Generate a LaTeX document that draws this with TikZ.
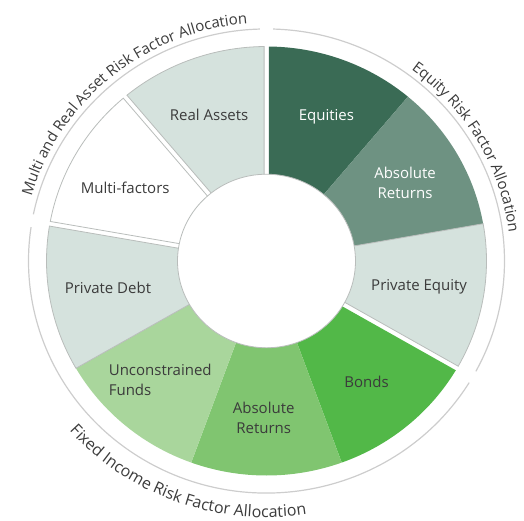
\documentclass[tikz,border=0pt]{standalone}
\usepackage{fontspec}
\setmainfont{Open Sans}
\usetikzlibrary{decorations.text}

\definecolor{eqdark}{HTML}{3A6B55}
\definecolor{eqmid}{HTML}{6E9282}
\definecolor{palegrey}{HTML}{D5E2DD}
\definecolor{bondgreen}{HTML}{52B848}
\definecolor{fimid}{HTML}{80C570}
\definecolor{filight}{HTML}{A9D69C}
\definecolor{edgegrey}{HTML}{B9BDBB}
\definecolor{rimgrey}{HTML}{CDCDCD}
\definecolor{inkgrey}{HTML}{3B3B3B}

\newcommand{\Rout}{220}
\newcommand{\Rin}{86}
\newcommand{\labelfont}{\fontsize{15}{20}\selectfont}
\newcommand{\bottomfont}{\fontsize{16}{20}\selectfont}

% ring sector: from angle, to angle, gap on the from side, gap on the to side, style
\newcommand{\ringsector}[5]{%
  \pgfmathsetmacro{\secAo}{#1-#3/\Rout*57.2958}%
  \pgfmathsetmacro{\secBo}{#2+#4/\Rout*57.2958}%
  \pgfmathsetmacro{\secAi}{#1-#3/\Rin*57.2958}%
  \pgfmathsetmacro{\secBi}{#2+#4/\Rin*57.2958}%
  \path[#5] (\secAo:\Rout) arc[start angle=\secAo, end angle=\secBo, radius=\Rout]
    -- (\secBi:\Rin) arc[start angle=\secBi, end angle=\secAi, radius=\Rin] -- cycle;
}

\tikzset{
  pale/.style={fill=palegrey, draw=edgegrey, line width=0.8pt},
  seglabel/.style={font=\labelfont, text=inkgrey, align=center},
  rim/.style={draw=rimgrey, line width=1.2pt},
  arclabel/.style={decorate, decoration={text along path, text align=center,
    text color=inkgrey}}
}

\begin{document}
\begin{tikzpicture}[x=1pt, y=1pt]
\useasboundingbox (-266.5,-260) rectangle (257.5,261);
\begin{scope}[yscale=0.975]

% equity group
\ringsector{90}{50}{2.4}{0}{fill=eqdark}
\ringsector{50}{10}{0}{0}{fill=eqmid}
\ringsector{10}{-30}{0}{2.4}{pale}
% fixed income group
\ringsector{-30}{-70}{2.4}{0}{fill=bondgreen}
\ringsector{-70}{-110}{0}{0}{fill=fimid}
\ringsector{-110}{-150}{0}{0}{fill=filight}
\ringsector{-150}{-190}{0}{2.4}{pale}
% multi and real asset group
\ringsector{170}{130}{2.4}{2.4}{pale, fill=white}
\ringsector{130}{90}{2.4}{2.4}{pale}

\filldraw[fill=white, draw=edgegrey, line width=0.8pt] (0,0) circle[radius=89];

\node[seglabel, text=white] (equities) at (68:160) {Equities};
\node[seglabel, text=white] (absreteq) at (30:160) {Absolute\\Returns};
\node[seglabel] (privequity) at (-10:155) {Private Equity};
\node[seglabel] (bonds) at (-51:159) {Bonds};
\node[seglabel] (absretfi) at (-91:161) {Absolute\\Returns};
\node[seglabel, align=left] (unconstrained) at (-131:162) {Unconstrained\\Funds};
\node[seglabel] (privdebt) at (190:161) {Private Debt};
\node[seglabel] (multifactors) at (152:160) {Multi-factors};
\node[seglabel] (realassets) at (111:160) {Real Assets};

% outer rim with group names
\draw[rim] (88.4:238) arc[start angle=88.4, end angle=-28.4, radius=238];
\draw[rim] (-31.6:238) arc[start angle=-31.6, end angle=-188.4, radius=238];
\draw[rim] (168.4:238) arc[start angle=168.4, end angle=91.6, radius=238];

\path[arclabel, decoration={text={|\labelfont|Equity Risk Factor Allocation}}]
  (75:244) arc[start angle=75, end angle=-15, radius=244];
\path[arclabel, decoration={text={|\labelfont|Multi and Real Asset Risk Factor Allocation}}]
  (174.5:244) arc[start angle=174.5, end angle=84.5, radius=244];
\path[arclabel, decoration={text={|\bottomfont|Fixed Income Risk Factor Allocation}}]
  (-155:263) arc[start angle=-155, end angle=-65, radius=263];

\end{scope}
\end{tikzpicture}
\end{document}
